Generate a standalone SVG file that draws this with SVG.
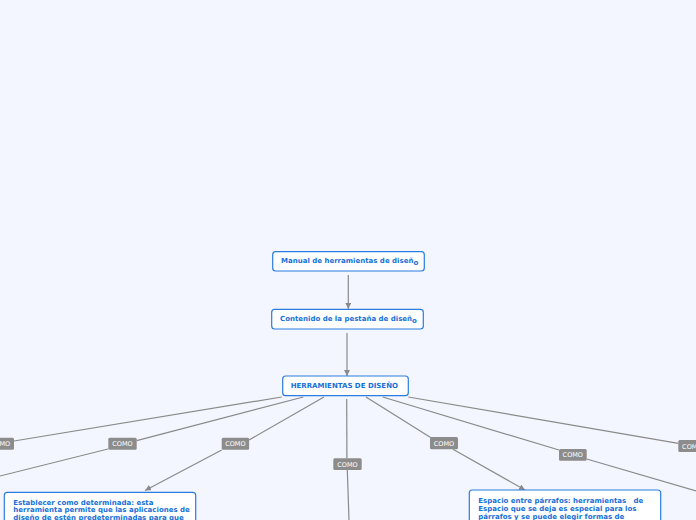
<svg xmlns="http://www.w3.org/2000/svg" width="696" height="520" viewBox="0 0 696 520">
<defs>
<style>
.node rect{fill:#ffffff;stroke:#2b7ce0;stroke-width:1.2}
.node text{font-family:"DejaVu Sans",Verdana,sans-serif;font-weight:bold;font-size:7px;fill:#1570d9}
.conn line,.conn polyline{stroke:#8a8a8a;stroke-width:1.2;fill:none}
.lbl rect{fill:#8c8c8c}
.lbl text{font-family:"DejaVu Sans",Verdana,sans-serif;font-size:6.5px;fill:#ffffff;text-anchor:middle}
</style>
<marker id="arr" viewBox="0 0 10 10" refX="10" refY="5" markerWidth="6" markerHeight="6" orient="auto" markerUnits="userSpaceOnUse">
<path d="M0,0 L10,5 L0,10 z" fill="#8a8a8a"/>
</marker>
</defs>
<rect x="0" y="0" width="696" height="520" fill="#f3f6fe"/>
<g id="connectors" class="conn">
<line x1="348.3" y1="275" x2="348.3" y2="309" marker-end="url(#arr)"/>
<line x1="347" y1="333" x2="347" y2="376" marker-end="url(#arr)"/>
<line x1="281.7" y1="397" x2="14" y2="441"/>
<line x1="-14" y1="446" x2="-60" y2="454"/>
<line x1="303.3" y1="397" x2="136.7" y2="440.7"/>
<line x1="108" y1="449" x2="0" y2="476"/>
<line x1="324" y1="397" x2="249" y2="440"/>
<line x1="221.7" y1="450" x2="145" y2="490.5" marker-end="url(#arr)"/>
<line x1="346.7" y1="399" x2="346.9" y2="458.3"/>
<line x1="347.3" y1="470" x2="349" y2="520"/>
<line x1="366" y1="397" x2="431" y2="437.7"/>
<line x1="453" y1="449.3" x2="525" y2="490" marker-end="url(#arr)"/>
<line x1="382.7" y1="397" x2="559" y2="450"/>
<line x1="586.7" y1="459" x2="696" y2="491"/>
<line x1="408.3" y1="397" x2="678.3" y2="443.3"/>
</g>
<g id="label1" class="lbl"><rect x="-14" y="437.7" width="28" height="12" rx="1.5"/><text x="0" y="446.2">COMO</text></g>
<g id="label2" class="lbl"><rect x="108.3" y="437.7" width="28.4" height="12" rx="1.5"/><text x="122.5" y="446.2">COMO</text></g>
<g id="label3" class="lbl"><rect x="221.7" y="437.7" width="27.4" height="12" rx="1.5"/><text x="235.4" y="446.2">COMO</text></g>
<g id="label4" class="lbl"><rect x="333.3" y="458.3" width="28.4" height="11.7" rx="1.5"/><text x="347.5" y="466.6">COMO</text></g>
<g id="label5" class="lbl"><rect x="430" y="437" width="28" height="12.3" rx="1.5"/><text x="444" y="445.6">COMO</text></g>
<g id="label6" class="lbl"><rect x="559" y="449" width="27.7" height="11.7" rx="1.5"/><text x="572.8" y="457.4">COMO</text></g>
<g id="label7" class="lbl"><rect x="678.3" y="440" width="28" height="12" rx="1.5"/><text x="692.3" y="448.5">COMO</text></g>
<g id="node-manual" class="node">
<rect x="272.7" y="251.7" width="151.6" height="19.3" rx="3"/>
<text x="281" y="263.3">Manual de herramientas de diseñ<tspan dy="1.5">o</tspan></text>
</g>
<g id="node-contenido" class="node">
<rect x="271.7" y="309.3" width="151.6" height="19.7" rx="3"/>
<text x="280" y="321">Contenido de la pestaña de diseñ<tspan dy="1.5">o</tspan></text>
</g>
<g id="node-herramientas" class="node">
<rect x="282.7" y="376" width="125.6" height="19.7" rx="3"/>
<text x="290.7" y="388.3">HERRAMIENTAS DE DISEÑO</text>
</g>
<g id="node-establecer" class="node">
<rect x="4.3" y="492.3" width="191.4" height="60" rx="3"/>
<text x="13.3" y="504.5">Establecer como determinada: esta</text>
<text x="13.3" y="512.3">herramienta permite que las aplicaciones de</text>
<text x="13.3" y="520.1">diseño de estén predeterminadas para que</text>
</g>
<g id="node-espacio" class="node">
<rect x="469.3" y="490" width="191.4" height="60" rx="3"/>
<text x="478.3" y="502.5" xml:space="preserve">Espacio entre párrafos: herramientas   de</text>
<text x="478.3" y="510.5">Espacio que se deja es especial para los</text>
<text x="478.3" y="518.5">párrafos y se puede elegir formas de</text>
</g>
</svg>
